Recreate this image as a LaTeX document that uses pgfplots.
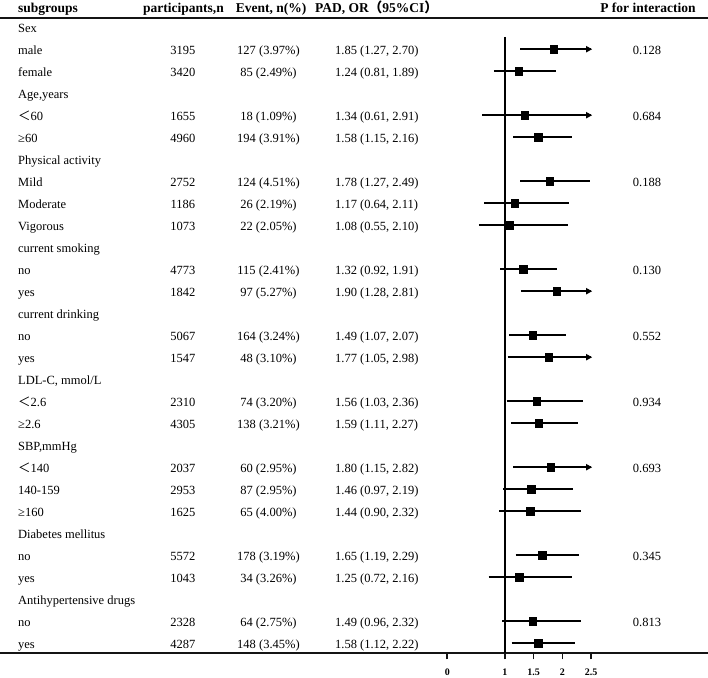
\documentclass[border=0pt]{standalone}
\usepackage{fontspec}
\setmainfont{Liberation Serif}
\newfontfamily\cjk{Noto Sans CJK SC}
\usepackage{pgfplots}
\pgfplotsset{compat=1.18}
\usepackage{pgfplotstable}
\usetikzlibrary{arrows.meta}

\colorlet{ink}{black!92}

% y = -(row index), OR with 95% CI
\pgfplotstableread{
y   or   lo   hi
-1  1.85 1.27 2.70
-2  1.24 0.81 1.89
-4  1.34 0.61 2.91
-5  1.58 1.15 2.16
-7  1.78 1.27 2.49
-8  1.17 0.64 2.11
-9  1.08 0.55 2.10
-11 1.32 0.92 1.91
-12 1.90 1.28 2.81
-14 1.49 1.07 2.07
-15 1.77 1.05 2.98
-17 1.56 1.03 2.36
-18 1.59 1.11 2.27
-20 1.80 1.15 2.82
-21 1.46 0.97 2.19
-22 1.44 0.90 2.32
-24 1.65 1.19 2.29
-25 1.25 0.72 2.16
-27 1.49 0.96 2.32
-28 1.58 1.12 2.22
}\ortable

% rows whose upper limit runs past 2.5
\pgfplotstableread{
y
-1
-4
-12
-15
-20
}\arrowrows

% column positions (data units on the OR axis)
\def\xa{-7.466}
\def\xb{-4.597}
\def\xc{-3.110}
\def\xd{-1.953}
\def\xe{3.473}

\newcommand\datarow[6]{%
  \node[txt, anchor=base west] at (axis cs:\xa,#1) {#2};
  \node[txt] at (axis cs:\xb,#1) {#3};
  \node[txt] at (axis cs:\xc,#1) {#4};
  \node[txt, anchor=base west] at (axis cs:\xd,#1) {#5};
  \node[txt] at (axis cs:\xe,#1) {#6};}
\newcommand\grouprow[2]{%
  \node[txt, anchor=base west] at (axis cs:\xa,#1) {#2};}

\begin{document}
\begin{tikzpicture}[
  txt/.style={anchor=base, inner sep=0pt, yshift=-5pt,
    font=\fontsize{12.5}{15}\selectfont},
  hdr/.style={anchor=base, inner sep=0pt,
    font=\bfseries\fontsize{13.5}{16}\selectfont}]
\begin{axis}[
    width=708pt, height=635pt, scale only axis,
    xmin=-7.779, xmax=4.534,
    ymin=-28.459, ymax=0.405,
    axis line style={draw=none},
    xtick={0,1,1.5,2,2.5},
    ytick=\empty,
    xtick pos=left,
    tick align=outside,
    major tick length=6pt,
    xtick style={draw=ink, line width=1.6pt},
    xticklabel style={font=\bfseries\fontsize{10}{12}\selectfont, yshift=-6pt},
    /pgf/number format/assume math mode=true,
    clip=false,
    ]
\coordinate (bl) at (rel axis cs:0,0);
\coordinate (tr) at (rel axis cs:1,1);

% top and bottom rules
\addplot[ink, line width=2pt] coordinates {(-7.779,0.405) (4.534,0.405)};
\addplot[ink, line width=2pt] coordinates {(-7.779,-28.459) (4.534,-28.459)};

% reference line at OR = 1
\addplot[black, line width=2pt] coordinates {(1,-0.445) (1,-28.459)};

% confidence intervals, cut at 2.5
\addplot[black, line width=1.8pt,
  quiver={u={min(\thisrow{hi},2.5)-\thisrow{lo}}, v=0}]
  table[x=lo, y=y] {\ortable};
% arrow heads for intervals past 2.5
\addplot[black, line width=1.8pt, -{Triangle[length=6pt,width=6pt]},
  quiver={u=0.22, v=0}]
  table[x expr=2.3, y=y] {\arrowrows};

% point estimates
\addplot[only marks, mark=square*, mark size=3.6pt, black]
  table[x=or, y=y] {\ortable};

% header
\node[hdr, anchor=base west] at (axis cs:-7.466,0.69) {subgroups};
\node[hdr] at (axis cs:-4.588,0.69) {participants,n};
\node[hdr] at (axis cs:-3.066,0.69) {Event, n(\%)};
\node[hdr, anchor=base west] at (axis cs:-2.301,0.69) {PAD, OR{\cjk （}95\%CI{\cjk ）}};
\node[hdr] at (axis cs:3.49,0.69) {P for interaction};

\grouprow{0}{Sex}
\datarow{-1}{male}{3195}{127 (3.97\%)}{1.85 (1.27, 2.70)}{0.128}
\datarow{-2}{female}{3420}{85 (2.49\%)}{1.24 (0.81, 1.89)}{}
\grouprow{-3}{Age,years}
\datarow{-4}{{\cjk ＜}60}{1655}{18 (1.09\%)}{1.34 (0.61, 2.91)}{0.684}
\datarow{-5}{≥60}{4960}{194 (3.91\%)}{1.58 (1.15, 2.16)}{}
\grouprow{-6}{Physical activity}
\datarow{-7}{Mild}{2752}{124 (4.51\%)}{1.78 (1.27, 2.49)}{0.188}
\datarow{-8}{Moderate}{1186}{26 (2.19\%)}{1.17 (0.64, 2.11)}{}
\datarow{-9}{Vigorous}{1073}{22 (2.05\%)}{1.08 (0.55, 2.10)}{}
\grouprow{-10}{current smoking}
\datarow{-11}{no}{4773}{115 (2.41\%)}{1.32 (0.92, 1.91)}{0.130}
\datarow{-12}{yes}{1842}{97 (5.27\%)}{1.90 (1.28, 2.81)}{}
\grouprow{-13}{current drinking}
\datarow{-14}{no}{5067}{164 (3.24\%)}{1.49 (1.07, 2.07)}{0.552}
\datarow{-15}{yes}{1547}{48 (3.10\%)}{1.77 (1.05, 2.98)}{}
\grouprow{-16}{LDL-C, mmol/L}
\datarow{-17}{{\cjk ＜}2.6}{2310}{74 (3.20\%)}{1.56 (1.03, 2.36)}{0.934}
\datarow{-18}{≥2.6}{4305}{138 (3.21\%)}{1.59 (1.11, 2.27)}{}
\grouprow{-19}{SBP,mmHg}
\datarow{-20}{{\cjk ＜}140}{2037}{60 (2.95\%)}{1.80 (1.15, 2.82)}{0.693}
\datarow{-21}{140-159}{2953}{87 (2.95\%)}{1.46 (0.97, 2.19)}{}
\datarow{-22}{≥160}{1625}{65 (4.00\%)}{1.44 (0.90, 2.32)}{}
\grouprow{-23}{Diabetes mellitus}
\datarow{-24}{no}{5572}{178 (3.19\%)}{1.65 (1.19, 2.29)}{0.345}
\datarow{-25}{yes}{1043}{34 (3.26\%)}{1.25 (0.72, 2.16)}{}
\grouprow{-26}{Antihypertensive drugs}
\datarow{-27}{no}{2328}{64 (2.75\%)}{1.49 (0.96, 2.32)}{0.813}
\datarow{-28}{yes}{4287}{148 (3.45\%)}{1.58 (1.12, 2.22)}{}
\end{axis}
\pgfresetboundingbox
\path[use as bounding box] ([yshift=-23.7pt]bl) rectangle ([yshift=18.3pt]tr);
\end{tikzpicture}
\end{document}
